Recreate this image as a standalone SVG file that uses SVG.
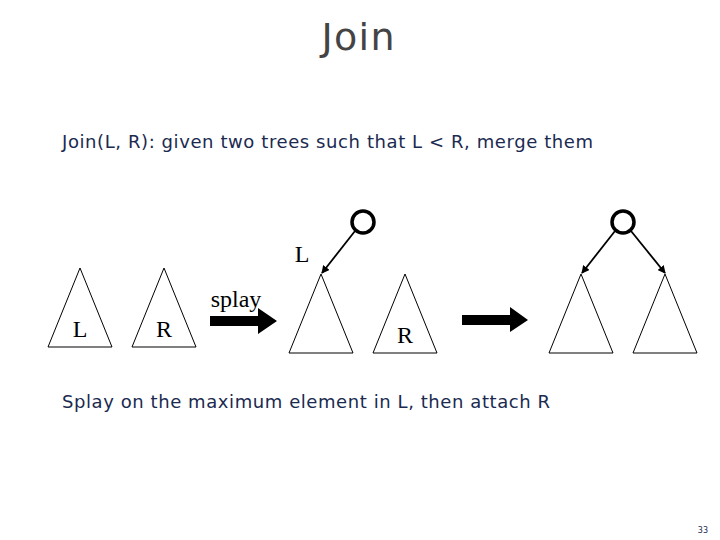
<svg xmlns="http://www.w3.org/2000/svg" width="720" height="540" viewBox="0 0 720 540">
<style>
.tri{fill:none;stroke:#000;stroke-width:1}
.ser{font-family:"Liberation Serif",serif;font-size:24px;fill:#000}
.sans{font-family:"DejaVu Sans","Liberation Sans",sans-serif;fill:#1a2a50}
.node{fill:#fff;stroke:#000;stroke-width:3.5}
.edge{stroke:#000;stroke-width:1.8;marker-end:url(#ah)}
</style>
<defs>
<marker id="ah" markerWidth="8" markerHeight="8" refX="7" refY="4" orient="auto" markerUnits="userSpaceOnUse"><path d="M0,0L8,4L0,8z" fill="#000"/></marker>
</defs>
<rect width="720" height="540" fill="#fff"/>
<text x="358" y="50" text-anchor="middle" class="sans" font-size="38" textLength="73" style="fill:#444">Join</text>
<text x="62" y="148" class="sans" font-size="18" textLength="531">Join(L, R): given two trees such that L &lt; R, merge them</text>
<g id="treeL1"><polygon class="tri" points="80,268 48,347 112,347"/><text class="ser" x="80" y="337" text-anchor="middle">L</text></g>
<g id="treeR1"><polygon class="tri" points="164,268 132,347 196,347"/><text class="ser" x="164" y="337" text-anchor="middle">R</text></g>
<g id="splay"><text class="ser" x="236" y="307" text-anchor="middle">splay</text><path d="M210,316H258V308L277,321L258,334V326H210z" fill="#000"/></g>
<g id="root1"><circle class="node" cx="363" cy="222" r="11"/></g>
<text class="ser" x="302" y="262" text-anchor="middle">L</text>
<g id="treeL2"><polygon class="tri" points="321,274 289,353 353,353"/></g>
<g id="treeR2"><polygon class="tri" points="405,274 373,353 437,353"/><text class="ser" x="405" y="343" text-anchor="middle">R</text></g>
<g id="arrow2"><path d="M462,315H510V307L528,320L510,332V325H462z" fill="#000"/></g>
<g id="root2"><circle class="node" cx="623" cy="222" r="11"/></g>
<g id="treeL3"><polygon class="tri" points="581,274 549,353 613,353"/></g>
<g id="treeR3"><polygon class="tri" points="665,274 633,353 697,353"/></g>
<g id="connectors">
<line class="edge" x1="355" y1="231" x2="322" y2="273"/>
<line class="edge" x1="615" y1="231" x2="582" y2="273"/>
<line class="edge" x1="631" y1="231" x2="665" y2="273"/>
</g>
<text x="62" y="408" class="sans" font-size="18" textLength="488">Splay on the maximum element in L, then attach R</text>
<text x="708" y="533" class="sans" font-size="8" text-anchor="end">33</text>
</svg>
